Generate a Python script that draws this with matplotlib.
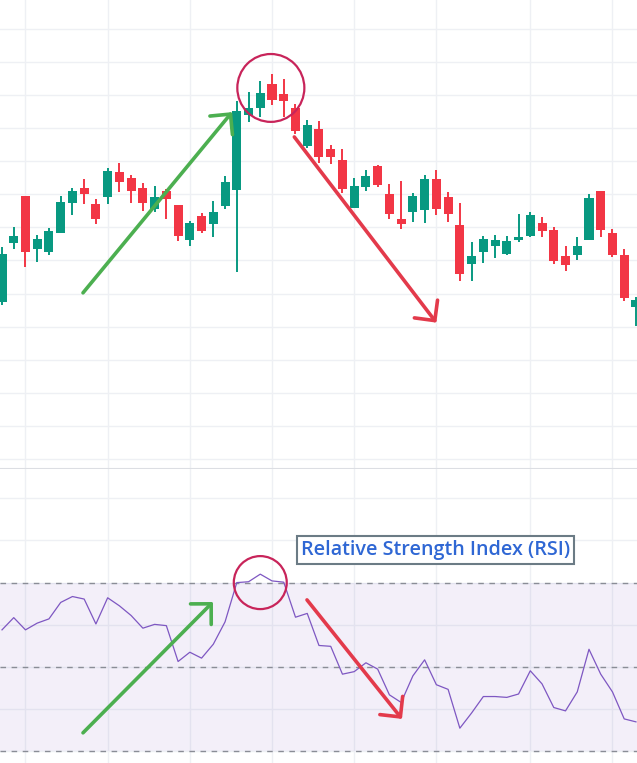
import numpy as np
import matplotlib
matplotlib.use("Agg")
import matplotlib.pyplot as plt
from matplotlib.patches import Ellipse

# candle data, one per session (price units, 10 per grid step)
opens = [147.4, 165.3, 179.5, 163.4, 162.5, 168.3, 177.3, 181.9, 177.0, 179.2,
         186.7, 184.9, 181.9, 175.5, 181.0, 176.7, 166.2, 173.4, 171.0, 176.4,
         181.3, 203.9, 206.0, 213.3, 210.3, 206.0, 194.6, 199.7, 193.7, 190.3,
         175.8, 182.2, 188.5, 180.1, 172.5, 174.6, 175.2, 184.6, 179.2, 170.7,
         158.9, 162.5, 164.4, 161.9, 166.2, 167.4, 171.3, 169.2, 161.3, 161.6,
         166.2, 181.0, 168.3, 161.6, 145.9]
highs = [164.0, 170.1, 179.5, 167.7, 169.8, 179.5, 181.9, 184.6, 178.6, 187.9,
         189.4, 185.8, 183.4, 182.5, 181.6, 176.7, 171.9, 174.3, 177.9, 185.5,
         208.2, 210.9, 214.2, 216.3, 214.8, 207.3, 202.4, 202.1, 194.9, 193.7,
         184.9, 187.3, 188.8, 183.1, 184.0, 180.4, 185.8, 187.3, 180.7, 177.3,
         165.6, 167.4, 167.7, 167.4, 174.0, 174.6, 173.1, 170.1, 164.4, 167.1,
         180.1, 181.0, 169.5, 163.4, 148.9]
lows = [146.5, 163.4, 158.0, 159.5, 161.6, 168.3, 173.7, 177.0, 171.0, 177.0,
        180.7, 177.3, 174.9, 174.6, 172.5, 165.9, 164.4, 168.3, 167.1, 175.5,
        156.5, 201.8, 203.3, 207.0, 203.3, 198.2, 194.0, 189.4, 189.1, 180.4,
        175.8, 181.0, 182.2, 172.5, 169.5, 171.6, 171.3, 173.7, 171.6, 153.8,
        153.8, 159.2, 160.7, 161.6, 165.6, 167.1, 167.1, 158.9, 156.8, 160.1,
        166.2, 167.1, 161.0, 147.7, 140.2]
closes = [161.9, 167.4, 162.5, 166.5, 168.9, 177.6, 181.0, 180.1, 172.5, 187.0,
          183.7, 181.0, 177.3, 179.2, 178.6, 167.4, 171.3, 168.9, 174.6, 183.7,
          205.1, 206.0, 210.6, 208.5, 208.2, 199.1, 200.9, 191.2, 191.2, 181.6,
          182.5, 185.5, 182.8, 174.0, 171.0, 179.5, 184.6, 175.5, 174.0, 155.9,
          161.3, 166.5, 166.2, 165.9, 167.1, 173.7, 168.9, 159.8, 158.6, 164.4,
          178.9, 169.2, 161.6, 148.6, 148.0]

rsi = [58.8, 61.7, 58.8, 60.4, 61.4, 65.3, 66.7, 66.1, 60.2, 66.4,
       64.5, 62.2, 59.2, 60.1, 59.8, 51.3, 53.5, 52.1, 55.4, 60.7,
       70.0, 70.2, 72.0, 70.4, 70.1, 61.8, 62.7, 55.1, 54.9, 48.3,
       48.9, 51.0, 49.5, 43.4, 41.6, 47.9, 51.7, 45.8, 44.7, 35.5,
       39.1, 43.0, 43.0, 42.8, 43.6, 49.1, 46.0, 40.4, 39.6, 44.1,
       54.2, 48.3, 44.1, 37.7, 37.0]

# weekly grid positions (candle index)
week_ticks = [2, 9, 16, 23, 30, 37, 45, 52]
price_ticks = list(range(100, 240, 10))
rsi_ticks = [30, 40, 50, 60, 70, 80, 90]
rsi_levels = [30, 50, 70]

UP = "#089981"
DOWN = "#f23645"
GRID = "#eef0f4"
RING = "#c8245a"
ARROW_UP = "#4caf50"
ARROW_DN = "#e33a4b"

x = np.arange(len(opens))
o = np.array(opens)
c = np.array(closes)
colors = [UP if cc >= oo else DOWN for oo, cc in zip(o, c)]

fig = plt.figure(figsize=(6.37, 7.63), dpi=100)
ax = fig.add_axes([0, 294 / 763, 1, 469 / 763])
ax2 = fig.add_axes([0, 0, 1, 294 / 763])

xlim = (-0.17, 54.09)

# ---- price panel
ax.set_xlim(*xlim)
ax.set_ylim(96.98, 238.67)
ax.set_xticks(week_ticks)
ax.set_yticks(price_ticks)
ax.grid(True, color=GRID, lw=1)
ax.tick_params(length=0, labelbottom=False, labelleft=False)
for s in ["top", "left", "right"]:
    ax.spines[s].set_visible(False)
ax.spines["bottom"].set_color("#dcdee3")
ax.spines["bottom"].set_linewidth(1.5)
ax.set_axisbelow(True)

ax.vlines(x, lows, highs, colors=colors, lw=1.4, zorder=2)
ax.bar(x, np.abs(c - o), bottom=np.minimum(o, c), width=0.77,
       color=colors, zorder=3)


def arrow(axis, start, end, color):
    axis.annotate("", xy=end, xytext=start,
                  arrowprops=dict(arrowstyle="->,head_length=1.0,head_width=1.0",
                                  color=color, lw=2.6, mutation_scale=10.5,
                                  shrinkA=0, shrinkB=0),
                  zorder=5)


arrow(ax, (6.9, 150.2), (19.6, 204.8), ARROW_UP)
arrow(ax, (24.9, 197.3), (37.0, 141.2), ARROW_DN)
ax.add_patch(Ellipse((22.9, 212.1), 5.71, 20.5, fill=False, ec=RING, lw=1.6, zorder=6))

# ---- RSI panel
ax2.set_xlim(*xlim)
ax2.set_ylim(27.25, 96.92)
ax2.set_xticks(week_ticks)
ax2.set_yticks(rsi_ticks)
ax2.grid(True, color=GRID, lw=1)
ax2.tick_params(length=0, labelbottom=False, labelleft=False)
for s in ax2.spines.values():
    s.set_visible(False)
ax2.set_axisbelow(True)

ax2.axhspan(30, 70, color="#7e57c2", alpha=0.09, lw=0, zorder=1)
for lvl in rsi_levels:
    ax2.axhline(lvl, color="#8a8d96", lw=1, ls=(0, (4, 4)), zorder=2)
ax2.plot(x, rsi, color="#7e57c2", lw=0.9, zorder=3)

arrow(ax2, (6.9, 34.4), (17.97, 65.4), ARROW_UP)
arrow(ax2, (25.98, 65.9), (34.07, 37.7), ARROW_DN)
ax2.add_patch(Ellipse((22.0, 70.0), 4.51, 12.56, fill=False, ec=RING, lw=1.6, zorder=6))

ax2.text(36.9, 77.8, "Relative Strength Index (RSI)", ha="center", va="center",
         fontsize=14.2, fontweight="semibold", color="#2f67d4",
         family=["Open Sans", "DejaVu Sans"],
         bbox=dict(boxstyle="square,pad=0.2", fc="white", ec="#6b7b85", lw=1.5),
         zorder=7)

fig.savefig("out.png", dpi=100)
